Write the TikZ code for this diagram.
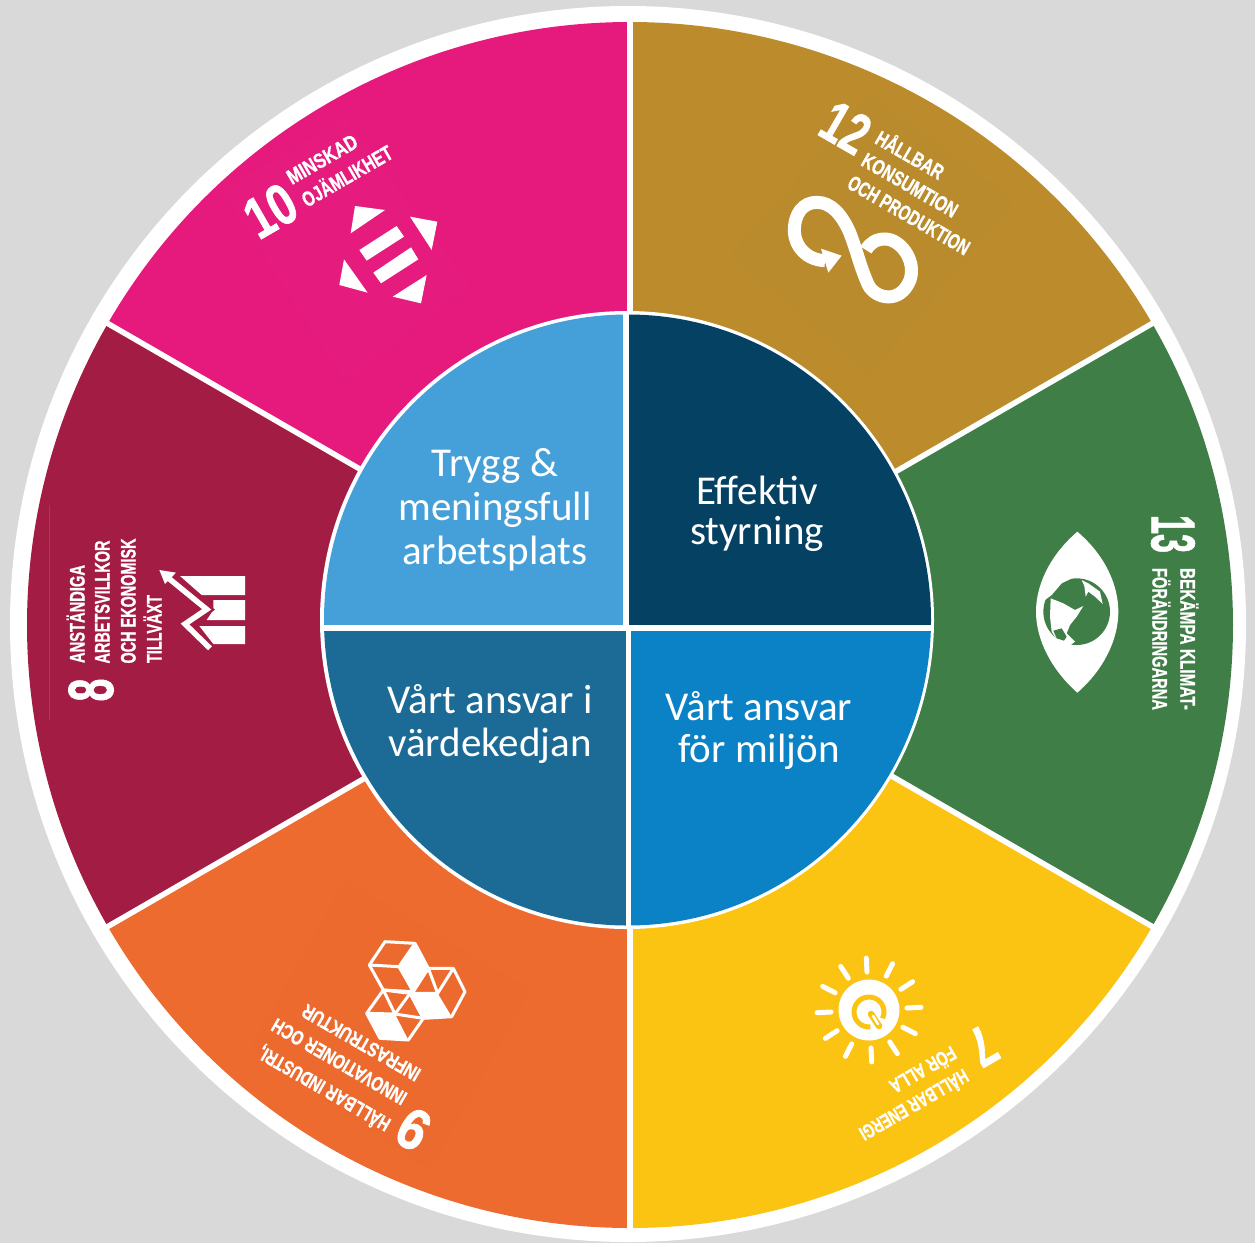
\documentclass[tikz,border=0pt]{standalone}
\usepackage{fontspec}
\usepackage{graphicx}
\setmainfont{Carlito}
\newfontfamily\sdg{Liberation Sans}[BoldFont={Liberation Sans Bold},BoldFeatures={FakeBold=1.2}]
\definecolor{bgc}{HTML}{D9D9D9}
\definecolor{pinkc}{HTML}{E6197D}
\definecolor{goldc}{HTML}{BC8C2C}
\definecolor{greenc}{HTML}{3F7E47}
\definecolor{yellowc}{HTML}{FBC412}
\definecolor{orangec}{HTML}{EE6B2F}
\definecolor{crimc}{HTML}{A21C44}
\definecolor{qtl}{HTML}{45A0DA}
\definecolor{qtr}{HTML}{044163}
\definecolor{qbr}{HTML}{0A82C5}
\definecolor{qbl}{HTML}{1B6B96}
\newcommand{\fitw}[2]{\resizebox{#1pt}{\height}{#2}}
\newcommand{\lab}[3]{{\fontsize{#1pt}{#1pt}\selectfont\sdg\bfseries\raisebox{-.36em}[0pt][0pt]{\fitw{#2}{#3}}}}
\tikzset{
  mid/.style={text=white,font=\fontsize{41}{44}\selectfont,align=center,inner sep=0pt},
  sdgt/.style={text=white,inner sep=0pt,anchor=center},
  ic/.style={fill=white,draw=none},
}
\begin{document}
\begin{tikzpicture}[x=1pt,y=-1pt]
\useasboundingbox (0,0) rectangle (1255,1243);
\fill[bgc] (0,0) rectangle (1255,1243);
\fill[white] (628,624) circle (618);
\coordinate (c) at (630,625);
% wedges
\fill[goldc]   (c) -- +(-90:603)  arc[start angle=-90,end angle=-30,radius=603] -- cycle;
\fill[greenc]  (c) -- +(-30:603)  arc[start angle=-30,end angle=30,radius=603] -- cycle;
\fill[yellowc] (c) -- +(30:603)   arc[start angle=30,end angle=90,radius=603] -- cycle;
\fill[orangec] (c) -- +(90:603)   arc[start angle=90,end angle=150,radius=603] -- cycle;
\fill[crimc]   (c) -- +(150:603)  arc[start angle=150,end angle=210,radius=603] -- cycle;
\fill[pinkc]   (c) -- +(210:603)  arc[start angle=210,end angle=270,radius=603] -- cycle;
\foreach \a in {-90,-30,30,90,150,210} \draw[white,line width=5.5] (c) -- +(\a:606);
% faint icon squares
\fill[pinkc!99.2!white] (222,190) -- (345,118) -- (470,285) -- (345,382) -- cycle;
\fill[goldc!99!black] (730,255) -- (870,95) -- (1015,200) -- (870,375) -- cycle;
\fill[yellowc!98!orange] (742,990) -- (915,890) -- (1018,1075) -- (850,1175) -- cycle;
\fill[orangec!99!black] (250,1050) -- (345,880) -- (530,990) -- (430,1170) -- cycle;
\draw[crimc!88!white,line width=1] (49,505) -- (49,720);
% centre
\fill[white] (627,620) ellipse[x radius=307,y radius=309];
\begin{scope}
\clip (627.5,620) ellipse[x radius=303.5,y radius=305.5];
\fill[qtl] (300,300) rectangle (623,625);
\fill[qtr] (629,300) rectangle (960,625);
\fill[qbl] (300,631) rectangle (626,950);
\fill[qbr] (631,631) rectangle (960,950);
\end{scope}
\node[mid] (tl) at (495,510) {Trygg \&\\meningsfull\\arbetsplats};
\node[mid,font=\fontsize{41}{40}\selectfont] (tr) at (757,514) {Effektiv\\styrning};
\node[mid,font=\fontsize{41}{43}\selectfont] (bl) at (490,724) {Vårt ansvar i\\värdekedjan};
\node[mid,font=\fontsize{41}{42}\selectfont] (br) at (759,730) {Vårt ansvar\\för miljön};
% ---- 10
\begin{scope}[shift={(220,120)},scale=1/3]
\fill[ic] (405,258)--(495,270)--(392,340)--cycle;
\fill[ic] (570,290)--(652,305)--(635,390)--cycle;
\fill[ic] (372,418)--(443,518)--(358,495)--cycle;
\fill[ic] (620,465)--(603,550)--(518,530)--cycle;
\fill[ic] (418,390)--(530,318)--(552,350)--(440,422)--cycle;
\fill[ic] (460,458)--(573,382)--(595,418)--(483,490)--cycle;
\end{scope}
\node[sdgt,rotate=30] (n10) at (270,210) {\lab{58}{50}{10}};
\node[sdgt,rotate=30] (t10a) at (322,159) {\lab{21}{78}{MINSKAD}};
\node[sdgt,rotate=30] (t10b) at (347,176) {\lab{21}{101}{OJÄMLIKHET}};
% ---- 12
\begin{scope}[shift={(760,90)},scale=1/3]
\draw[white,line width=13,line cap=butt] (195,512) .. controls (140,510) and (105,470) .. (103,425)
  .. controls (102,370) and (130,337) .. (170,337)
  .. controls (215,337) and (245,375) .. (268,425)
  .. controls (290,480) and (300,530) .. (325,585)
  .. controls (345,625) and (420,645) .. (450,570)
  .. controls (470,510) and (420,447) .. (375,447)
  .. controls (350,447) and (330,458) .. (318,480);
\fill[ic] (245,497)--(183,476)--(205,548)--cycle;
\end{scope}
\node[sdgt,rotate=-30] (n12) at (846,127) {\lab{58}{46}{12}};
\node[sdgt,rotate=-30] (t12a) at (910,155) {\lab{21}{75}{HÅLLBAR}};
\node[sdgt,rotate=-30] (t12b) at (910,185) {\lab{21}{107}{KONSUMTION}};
\node[sdgt,rotate=-30] (t12c) at (909,215) {\lab{21}{137}{OCH PRODUKTION}};
% ---- 13
\begin{scope}[shift={(1020,500)},scale=1/3]
\fill[ic] (172,95) .. controls (260,170) and (295,260) .. (295,335)
  .. controls (295,420) and (250,510) .. (172,578)
  .. controls (95,510) and (48,420) .. (48,335)
  .. controls (48,260) and (85,170) .. (172,95) -- cycle;
\fill[greenc] (170,335) circle (100);
\fill[white] (68,305) -- (95,285) -- (125,250) -- (160,233) -- (100,225) -- (65,270) -- cycle;
\fill[white] (92,295) -- (130,310) -- (165,330) -- (190,318) -- (170,350) -- (150,375)
  -- (140,400) -- (165,425) -- (150,436) -- (115,425) -- (95,395) -- (90,350) -- cycle;
\fill[white] (185,240) -- (205,250) -- (240,275) -- (248,312) -- (225,290) -- (205,275) -- (197,290) -- (193,258) -- cycle;
\fill[greenc] (100,392) -- (125,385) -- (140,410) -- (132,422) -- (110,415) -- cycle;
\end{scope}
\node[sdgt,rotate=-90] (n13) at (1174,534) {\lab{62}{38}{13}};
\node[sdgt,rotate=-90] (t13a) at (1188,639) {\lab{21}{142}{BEKÄMPA KLIMAT-}};
\node[sdgt,rotate=-90] (t13b) at (1160,639) {\lab{21}{142}{FÖRÄNDRINGARNA}};
% ---- 7
\coordinate (sun) at (869,1010);
\foreach \a in {0,30,...,330}
  \draw[white,line width=5,line cap=round] (sun) ++(\a-3:38) -- ++(\a-3:14);
\fill[white] (sun) circle (30.5);
\draw[yellowc,line width=5] (869,1012) +(85:15) arc[start angle=85,end angle=385,radius=15];
\draw[yellowc,line width=6.5,line cap=round] (871,1014) -- (879,1026);
\draw[white,line width=2.5,line cap=round] (873,1016) -- (878,1024);
\node[sdgt,rotate=-150] (n7) at (983,1047) {\lab{56}{24}{7}};
\node[sdgt,rotate=-150] (t7a) at (914,1105) {\lab{20}{122}{HÅLLBAR ENERGI}};
\node[sdgt,rotate=-150] (t7b) at (923,1070) {\lab{20}{73}{FÖR ALLA}};
% ---- 9
\begin{scope}[shift={(250,930)},scale=1/3]
\fill[ic] (495,40)--(535,115)--(490,185)--(447,110)--cycle;
\fill[ic] (480,190)--(563,190)--(605,260)--(520,265)--cycle;
\fill[ic] (350,250)--(435,252)--(475,330)--(390,325)--cycle;
\draw[white,line width=3,line join=round] (405,35)--(495,40)--(535,115)--(490,185)--(400,180)--(358,105)--cycle;
\draw[white,line width=3] (358,105)--(447,110)--(490,185) (447,110)--(495,40);
\draw[white,line width=3,line join=round] (535,115)--(610,115)--(645,185)--(605,260)--(520,265)--(480,190)--cycle;
\draw[white,line width=3] (535,115)--(563,190)--(610,115) (563,190)--(480,190);
\draw[white,line width=3,line join=round] (400,180)--(480,190)--(520,265)--(475,330)--(390,325)--(350,250)--cycle;
\draw[white,line width=3] (400,180)--(435,252)--(480,190) (435,252)--(520,265) (435,252)--(350,250);
\end{scope}
\node[sdgt,rotate=150] (n9) at (413,1130) {\lab{58}{28}{9}};
\node[sdgt,rotate=150] (t9a) at (324,1089) {\lab{20}{149}{HÅLLBAR INDUSTRI,}};
\node[sdgt,rotate=150] (t9b) at (339,1062) {\lab{20}{152}{INNOVATIONER OCH}};
\node[sdgt,rotate=150] (t9c) at (361,1043) {\lab{20}{133}{INFRASTRUKTUR}};
% ---- 8
\begin{scope}[shift={(50,520)},scale=1/3]
\fill[ic] (390,168)--(585,168)--(585,225)--(455,225)--cycle;
\fill[ic] (490,240)--(585,240)--(585,300)--(470,300)--(490,270)--cycle;
\fill[ic] (448,318)--(585,318)--(585,372)--(490,372)--cycle;
\draw[crimc,line width=10,line join=miter] (480,385)--(405,312)--(470,268)--(350,170);
\draw[white,line width=5.5,line join=miter] (480,385)--(405,312)--(470,268)--(350,170);
\fill[ic] (328,150)--(378,158)--(345,192)--cycle;
\end{scope}
\node[sdgt,rotate=90] (n8) at (90,690) {\lab{64}{23}{8}};
\node[sdgt,rotate=90] (t8a) at (77,614) {\lab{21}{98}{ANSTÄNDIGA}};
\node[sdgt,rotate=90] (t8b) at (102,602) {\lab{21}{123}{ARBETSVILLKOR}};
\node[sdgt,rotate=90] (t8c) at (128,601) {\lab{21}{125}{OCH EKONOMISK}};
\node[sdgt,rotate=90] (t8d) at (154,629) {\lab{21}{68}{TILLVÄXT}};
\end{tikzpicture}
\end{document}
